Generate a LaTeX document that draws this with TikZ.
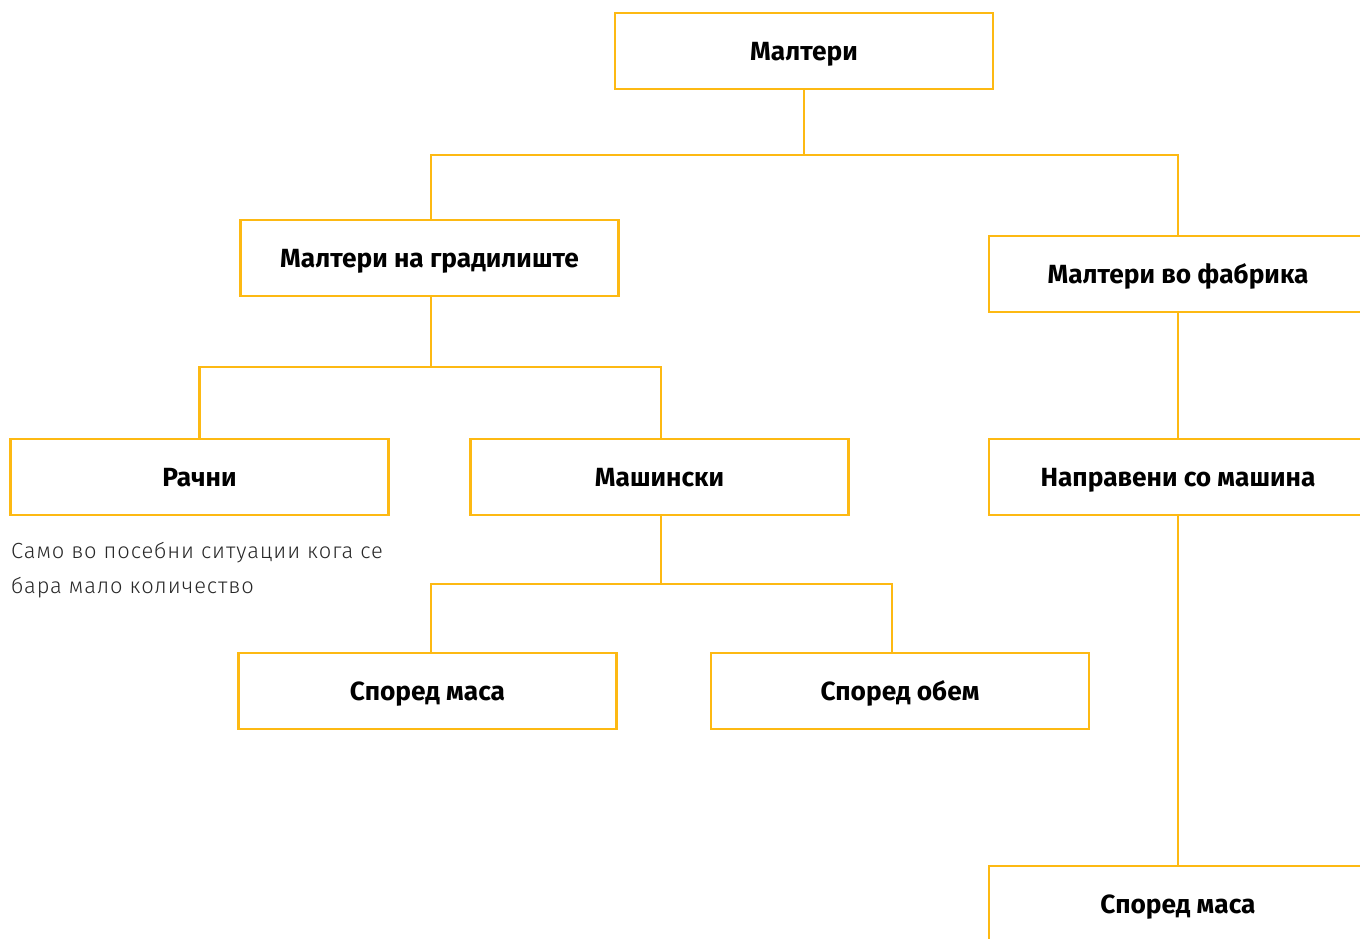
\documentclass[tikz,border=0pt]{standalone}
\usepackage{fontspec}
\setmainfont{Fira Sans}
\newfontfamily\notefont[LetterSpace=4]{Fira Sans Light}
\usetikzlibrary{positioning}
\definecolor{malteryellow}{RGB}{253,185,19}
\definecolor{notegray}{RGB}{40,40,40}

\begin{document}
\begin{tikzpicture}[x=1pt,y=-1pt,
    box/.style={draw=malteryellow,line width=2.6pt,minimum width=378pt,minimum height=76pt,
      inner sep=0pt,text height=19pt,text depth=0pt,font=\fontsize{26.3}{30}\selectfont\bfseries},
    link/.style={draw=malteryellow,line width=2.6pt},
    note/.style={text=notegray,align=left,inner sep=0pt,font=\fontsize{21.9}{35}\selectfont\notefont}]
    \useasboundingbox (0,0) rectangle (1360,938);
    \clip (0,0) rectangle (1360,938);
    % boxes
    \node[box] (malteri) at (804,51) {Малтери};
    \node[box] (gradiliste) at (429.5,258) {Малтери на градилиште};
    \node[box] (fabrika) at (1178,274) {Малтери во фабрика};
    \node[box] (racni) at (199.5,477) {Рачни};
    \node[box] (masinski) at (659.5,477) {Машински};
    \node[box] (napraveni) at (1178,477) {Направени со машина};
    \node[box] (masa) at (427.5,691) {Според маса};
    \node[box] (obem) at (900,691) {Според обем};
    \node[box] (masa2) at (1178,904) {Според маса};
    \node[note,anchor=base west] (racninote) at (11,593) {Само во посебни ситуации кога се\\бара мало количество};
    % bus points
    \coordinate (bus1) at (804,155);
    \coordinate (bus2) at (431,367);
    \coordinate (bus3) at (661,584);
    % connectors
    \draw[link] (malteri.south) -- (bus1);
    \draw[link] ([xshift=1.5pt]gradiliste.north) |- (bus1) -| (fabrika.north);
    \draw[link] ([xshift=1.5pt]gradiliste.south) -- (bus2);
    \draw[link] (racni.north) |- (bus2) -| ([xshift=1.5pt]masinski.north);
    \draw[link] ([xshift=1.5pt]masinski.south) -- (bus3);
    \draw[link] ([xshift=3.5pt]masa.north) |- (bus3) -| ([xshift=-8pt]obem.north);
    \draw[link] (fabrika.south) -- (napraveni.north);
    \draw[link] (napraveni.south) -- (masa2.north);
\end{tikzpicture}
\end{document}
